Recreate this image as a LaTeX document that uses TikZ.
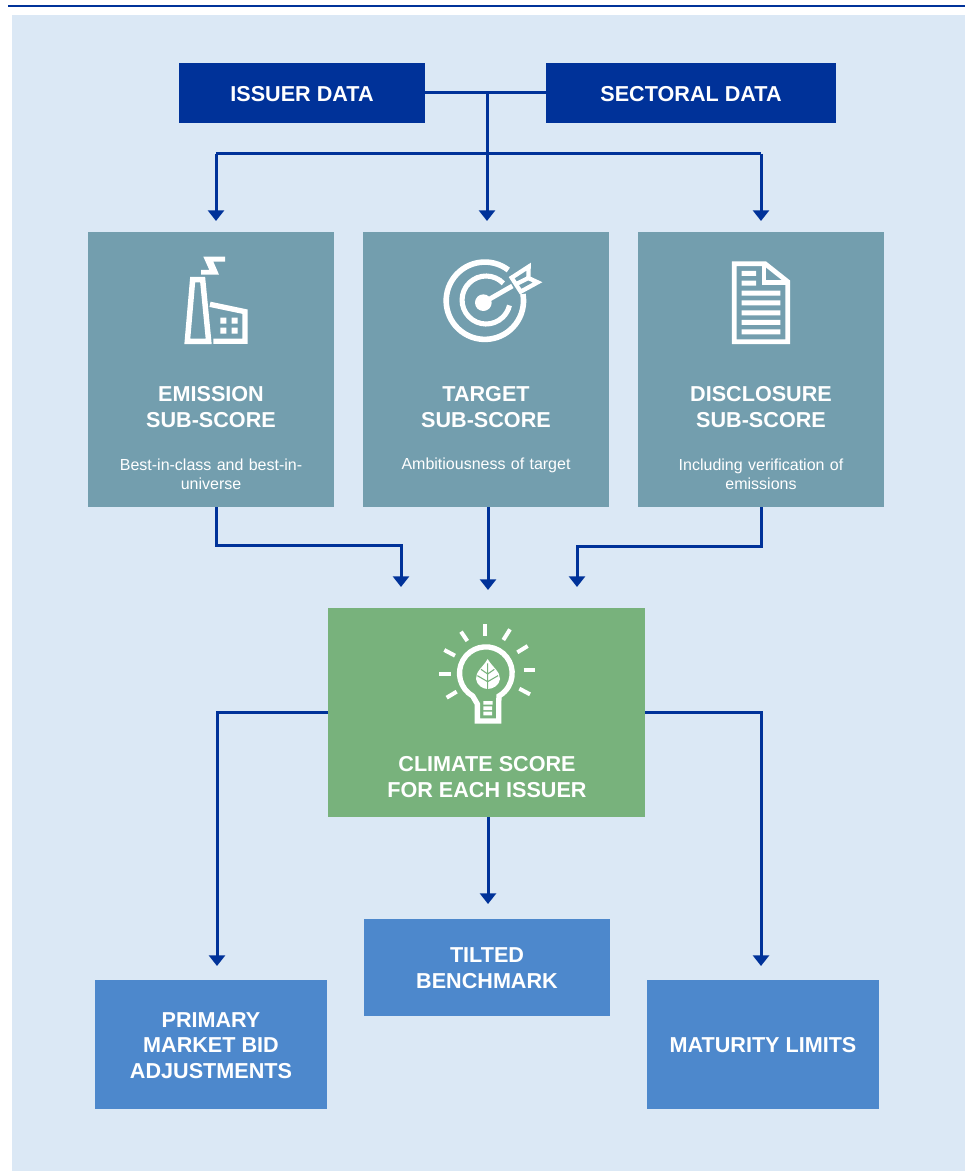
\documentclass[tikz,border=0pt]{standalone}
\usepackage{fontspec}
\setmainfont{Liberation Sans}
\usetikzlibrary{arrows.meta,positioning}
\definecolor{ecbblue}{HTML}{003299}
\definecolor{panelblue}{HTML}{DBE8F5}
\definecolor{tealbox}{HTML}{739EAE}
\definecolor{greenbox}{HTML}{78B27C}
\definecolor{outbox}{HTML}{4D88CC}
\tikzset{
  darkbox/.style={fill=ecbblue,inner sep=0pt,minimum width=184.5pt,minimum height=45pt},
  subbox/.style={fill=tealbox,inner sep=0pt,minimum width=184.5pt,minimum height=206.25pt},
  climatebox/.style={fill=greenbox,inner sep=0pt,minimum width=237.75pt,minimum height=156.75pt},
  resultbox/.style={fill=outbox,inner sep=0pt,minimum width=174pt,minimum height=96.75pt},
  titletext/.style={text=white,inner sep=0pt,font=\bfseries\fontsize{16.2}{19.3}\selectfont,align=center},
  desctext/.style={text=white,inner sep=0pt,font=\fontsize{12}{14.4}\selectfont,align=center,text width=150pt},
  conn/.style={draw=ecbblue,line width=2.25pt},
  arr/.style={conn,-{Triangle[width=12pt,length=8pt]}},
  icon/.style={draw=white,line join=miter},
  zoomed/.style={x=0.25pt,y=-0.25pt},
}
\begin{document}
\begin{tikzpicture}[x=0.75pt,y=-0.75pt]
\useasboundingbox (0,0) rectangle (965,1176);
\fill[panelblue] (12,15) rectangle (965,1171);
\fill[ecbblue] (8,4.7) rectangle (965,7.3);

% boxes
\node[darkbox] (issuer) at (302,93) {};
\node[darkbox,minimum width=217.5pt] (sectoral) at (691,93) {};
\node[subbox] (emission) at (211,369.5) {};
\node[subbox] (target) at (486,369.5) {};
\node[subbox] (disclosure) at (761,369.5) {};
\node[climatebox] (climate) at (486.5,712.5) {};
\node[resultbox] (primary) at (211,1044.5) {};
\node[resultbox,minimum width=184.5pt,minimum height=72.75pt] (tilted) at (487,967.5) {};
\node[resultbox] (maturity) at (763,1044.5) {};

% texts
\node[titletext] (issuerT) at (302,94) {ISSUER DATA};
\node[titletext] (sectoralT) at (691,94) {SECTORAL DATA};
\node[titletext] (t1) at (211,407) {EMISSION\\SUB-SCORE};
\node[titletext] (t2) at (486,407) {TARGET\\SUB-SCORE};
\node[titletext] (t3) at (761,407) {DISCLOSURE\\SUB-SCORE};
\node[desctext] (d1) at (211,474) {Best-in-class and best-in-\\universe};
\node[desctext] (d2) at (486,465.5) {Ambitiousness of target};
\node[desctext] (d3) at (761,474) {Including verification of\\emissions};
\node[titletext] (t4) at (487,777) {CLIMATE SCORE\\FOR EACH ISSUER};
\node[titletext] (primaryT) at (211,1045.5) {PRIMARY\\MARKET BID\\ADJUSTMENTS};
\node[titletext] (tiltedT) at (487,968) {TILTED\\BENCHMARK};
\node[titletext] (maturityT) at (763,1045) {MATURITY LIMITS};

% connector points
\coordinate (top) at (487,93);
\coordinate (bus) at (487,154);
\coordinate (busL) at (216,154);
\coordinate (busR) at (761,154);
\coordinate (inL) at (216,221);
\coordinate (inM) at (487,221);
\coordinate (inR) at (761,221);
\coordinate (eOut) at (216,507);
\coordinate (eBend) at (216,545);
\coordinate (eEnd) at (401,587);
\coordinate (tOut) at (488,507);
\coordinate (tEnd) at (488,590);
\coordinate (dOut) at (761,507);
\coordinate (dBend) at (761,546);
\coordinate (dEnd) at (577,587);
\coordinate (cL) at (328,712);
\coordinate (cR) at (645,712);
\coordinate (pEnd) at (217,966);
\coordinate (mEnd) at (761,966);
\coordinate (cOut) at (488,817);
\coordinate (tiltEnd) at (488,904);

% connectors
\draw[conn] (issuer.east) -- (sectoral.west);
\draw[arr] (top) -- (inM);
\draw[conn] (busL) -- (busR);
\draw[arr] (busL) -- (inL);
\draw[arr] (busR) -- (inR);
\draw[arr] (eOut) -- (eBend) -| (eEnd);
\draw[arr] (tOut) -- (tEnd);
\draw[arr] (dOut) -- (dBend) -| (dEnd);
\draw[arr] (cL) -| (pEnd);
\draw[arr] (cR) -| (mEnd);
\draw[arr] (cOut) -- (tiltEnd);

% factory icon
\begin{scope}[shift={(150,240)},zoomed]
  \draw[icon,line width=4.1pt] (112,304) -- (128,119) -- (158,119) -- (176,304) -- cycle;
  \draw[icon,line width=4pt] (180,193) -- (285,215) -- (285,304) -- (190,304);
  \fill[white] (160,50) -- (225,50) -- (225,65) -- (190,65) -- (207,104) -- (153,104) -- (153,90) -- (178,90) -- cycle;
  \fill[white] (211,233) rectangle (229,251) (245,233) rectangle (263,251)
               (211,263) rectangle (229,281) (245,263) rectangle (263,281);
\end{scope}

% target icon
\begin{scope}[shift={(425,240)},zoomed]
  \coordinate (tc) at (175,188);
  \fill[white] (tc) circle[radius=25];
  \draw[icon,line width=4.2pt] (250,90) arc[start angle=-52.6,delta angle=-317.4,radius=116];
  \draw[icon,line width=3.8pt] (235,130) arc[start angle=-44,delta angle=-303,radius=72];
  \draw[icon,line width=3.6pt] (tc) -- (262,138);
  \draw[icon,line width=3.2pt] (260,113) -- (311,80) -- (310,114) -- (338,127) -- (287,155) -- cycle;
  \draw[icon,line width=3.2pt] (272,133) -- (310,114);
\end{scope}

% document icon
\begin{scope}[shift={(700,240)},zoomed]
  \draw[icon,line width=3.6pt] (103,71) -- (195,71) -- (263,125) -- (263,305) -- (103,305) -- cycle;
  \draw[icon,line width=3.6pt] (192,71) -- (192,127) -- (263,127);
  \fill[white] (125,93) rectangle (168,108) (125,122) rectangle (168,137)
    (125,152) rectangle (241,167) (125,181) rectangle (241,196)
    (125,211) rectangle (241,226) (125,240) rectangle (241,255)
    (125,268) rectangle (241,283);
\end{scope}

% bulb icon
\begin{scope}[shift={(420,610)},zoomed]
  \foreach \xa/\ya/\xb/\yb in {196/42/196/77,123/65/142/93,270/58/250/90,73/120/105/137,323/108/292/127,58/191/92/191,311/181/345/181,80/263/110/245,330/253/298/236}
    \draw[icon,line width=3pt] (\xa,\ya) -- (\xb,\yb);
  \draw[icon,line width=4pt] (172,333) -- (172,282) -- (158,258)
     arc[start angle=120,delta angle=300,radius=79]
     -- (236,282) -- (236,333) -- cycle;
  \fill[white] (190,273) rectangle (218,284) (190,289) rectangle (216,300) (190,305) rectangle (216,316);
  \fill[white] (203,147) .. controls (190,170) and (166,185) .. (168,207) .. controls (170,225) and (188,237) .. (203,237) .. controls (220,237) and (238,225) .. (240,207) .. controls (241,185) and (216,170) .. (203,147) -- cycle;
  \draw[greenbox,line width=0.8pt] (203,160) -- (203,240) (203,192) -- (183,178) (203,192) -- (223,178) (203,215) -- (172,197) (203,215) -- (234,197);
\end{scope}
\end{tikzpicture}
\end{document}
